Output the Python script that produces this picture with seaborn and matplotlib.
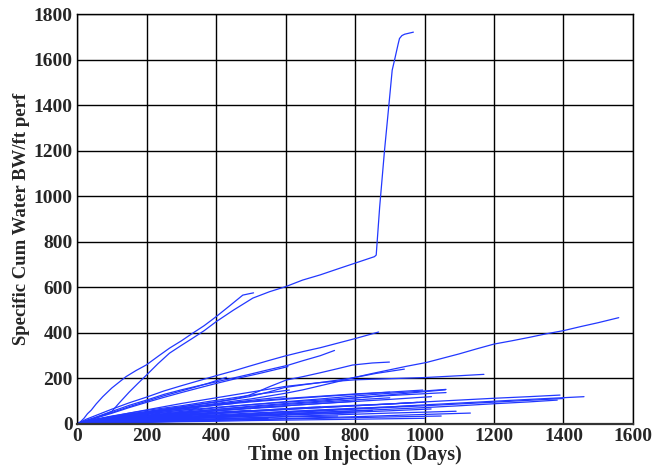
import matplotlib
matplotlib.use("Agg")
import matplotlib.pyplot as plt
import seaborn as sns
import pandas as pd

# ---- data: days on injection vs specific cum water (BW/ft perf), one list pair per well ----
w01_x = [0, 25, 50, 75, 100, 120, 150, 175, 200, 233, 266, 300, 333, 366, 400, 450, 506, 554, 600, 649, 700, 756, 813, 856, 861, 871, 885, 897, 907, 914, 919, 924, 928, 935, 943, 968]
w01_y = [0, 12, 25, 40, 55, 90, 140, 178, 215, 265, 311, 345, 377, 410, 449, 500, 553, 581, 603, 632, 655, 684, 713, 735, 742, 954, 1203, 1393, 1554, 1600, 1634, 1668, 1693, 1706, 1712, 1721]
w02_x = [0, 10, 20, 30, 41, 55, 74, 100, 141, 170, 199, 233, 266, 300, 333, 366, 400, 440, 477, 495, 508]
w02_y = [0, 10, 25, 45, 61, 88, 120, 158, 208, 235, 259, 297, 333, 365, 399, 432, 471, 520, 566, 572, 576]
w03_x = [0, 25, 50, 100, 150, 200, 250, 300, 350, 400, 450, 496, 550, 597, 650, 700, 750, 800, 868]
w03_y = [0, 20, 35, 65, 93, 118, 145, 168, 190, 212, 233, 254, 278, 298, 318, 335, 355, 375, 404]
w04_x = [0, 25, 50, 100, 150, 200, 250, 300, 350, 400, 450, 496, 550, 607, 650, 700, 741]
w04_y = [0, 15, 28, 55, 82, 105, 130, 150, 168, 185, 202, 218, 238, 258, 278, 300, 323]
w05_x = [0, 25, 50, 100, 150, 200, 250, 300, 340, 380, 430]
w05_y = [0, 14, 25, 50, 76, 100, 124, 145, 162, 180, 205]
w06_x = [0, 50, 100, 150, 200, 250, 300, 350, 400, 460, 525, 607]
w06_y = [0, 24, 47, 72, 95, 117, 138, 158, 178, 200, 222, 252]
w07_x = [0, 50, 100, 150, 200, 250, 300, 350, 410, 460, 496, 525, 554, 602, 650, 700, 750, 793, 850, 899]
w07_y = [0, 17, 30, 43, 55, 66, 75, 86, 98, 112, 127, 145, 164, 193, 208, 225, 243, 259, 268, 272]
w08_x = [0, 50, 100, 150, 200, 300, 400, 450, 496, 550, 597, 650, 700, 784, 860, 942]
w08_y = [0, 15, 28, 41, 52, 75, 98, 108, 120, 140, 160, 172, 182, 200, 222, 241]
w09_x = [0, 50, 100, 150, 200, 300, 400, 500, 600, 650, 700, 750, 800, 850, 900, 950, 1005, 1050, 1100, 1150, 1200, 1250, 1300, 1350, 1400, 1450, 1500, 1559]
w09_y = [0, 14, 26, 38, 50, 70, 90, 110, 135, 150, 168, 186, 205, 222, 238, 254, 270, 288, 308, 330, 351, 365, 380, 396, 410, 428, 445, 467]
w10_x = [0, 50, 100, 150, 200, 300, 400, 500, 600, 700, 800, 900, 1000, 1100, 1171]
w10_y = [0, 18, 33, 48, 62, 90, 115, 140, 165, 182, 194, 199, 204, 212, 218]
w11_x = [0, 50, 100, 200, 300, 400, 500, 600, 700, 800, 900, 1000, 1062]
w11_y = [0, 14, 25, 42, 55, 71, 85, 98, 110, 123, 135, 145, 152]
w12_x = [0, 50, 100, 200, 300, 400, 500, 600, 700, 800, 900, 1000, 1062]
w12_y = [0, 17, 30, 46, 60, 73, 85, 96, 105, 115, 125, 133, 138]
w13_x = [0, 50, 100, 200, 300, 400, 500, 600, 700, 800, 900, 1020]
w13_y = [0, 11, 20, 33, 45, 58, 70, 80, 90, 99, 108, 120]
w14_x = [0, 50, 100, 200, 300, 400, 500, 600, 700, 800, 900, 1000, 1100, 1200, 1300, 1390]
w14_y = [0, 8, 15, 25, 35, 45, 55, 64, 72, 80, 88, 97, 105, 113, 120, 127]
w15_x = [0, 50, 100, 200, 300, 400, 500, 600, 700, 800, 900, 1000, 1100, 1200, 1300, 1459]
w15_y = [0, 7, 12, 20, 28, 37, 45, 53, 60, 68, 75, 84, 92, 100, 108, 120]
w16_x = [0, 50, 100, 200, 300, 400, 500, 600, 700, 800, 900, 1000, 1100, 1200, 1300, 1382]
w16_y = [0, 5, 10, 16, 22, 28, 35, 43, 50, 58, 65, 72, 80, 89, 97, 105]
w17_x = [0, 50, 100, 200, 300, 400, 500, 600, 700, 800, 900, 1000, 1091]
w17_y = [0, 4, 8, 13, 18, 23, 28, 33, 38, 43, 48, 52, 56]
w18_x = [0, 100, 200, 300, 400, 500, 600, 700, 800, 900, 1000, 1132]
w18_y = [0, 5, 9, 12, 16, 20, 24, 28, 32, 37, 42, 48]
w19_x = [0, 50, 100, 200, 300, 400, 500, 600, 700, 800, 900, 1019]
w19_y = [0, 6, 10, 16, 22, 29, 35, 41, 47, 52, 58, 66]
w20_x = [0, 50, 100, 200, 300, 400, 500, 600, 700, 800, 900, 995]
w20_y = [0, 18, 32, 52, 68, 83, 97, 109, 120, 130, 140, 149]
w21_x = [0, 50, 100, 200, 300, 400, 500, 600, 700, 800, 900, 980]
w21_y = [0, 10, 18, 30, 40, 49, 58, 67, 75, 82, 88, 95]
w22_x = [0, 50, 100, 200, 300, 400, 500, 600, 700, 800, 900, 960]
w22_y = [0, 8, 14, 24, 32, 40, 48, 55, 62, 69, 75, 80]
w23_x = [0, 50, 100, 200, 300, 400, 500, 600, 700, 800, 900]
w23_y = [0, 14, 24, 39, 52, 64, 75, 86, 96, 106, 115]
w24_x = [0, 50, 100, 200, 300, 400, 500, 600, 700, 850]
w24_y = [0, 7, 12, 20, 27, 34, 40, 46, 52, 60]
w25_x = [0, 50, 100, 200, 300, 400, 500, 600, 700, 800]
w25_y = [0, 13, 22, 36, 48, 59, 70, 80, 90, 100]
w26_x = [0, 100, 200, 300, 400, 500, 600, 750]
w26_y = [0, 8, 13, 18, 22, 27, 31, 35]
w27_x = [0, 50, 100, 200, 300, 400, 500, 600, 700]
w27_y = [0, 10, 17, 29, 40, 49, 58, 67, 75]
w28_x = [0, 100, 200, 300, 400, 500, 650]
w28_y = [0, 12, 20, 27, 33, 38, 45]
w29_x = [0, 50, 100, 200, 300, 375, 450, 525, 600]
w29_y = [0, 18, 30, 50, 68, 82, 95, 108, 120]
w30_x = [0, 100, 200, 300, 400, 550]
w30_y = [0, 7, 12, 16, 20, 25]
w31_x = [0, 50, 100, 200, 300, 400, 500]
w31_y = [0, 11, 19, 32, 43, 52, 60]
w32_x = [0, 50, 100, 200, 300, 375, 450]
w32_y = [0, 16, 28, 48, 65, 78, 90]
w33_x = [0, 100, 175, 250, 325, 400]
w33_y = [0, 14, 21, 28, 34, 40]
w34_x = [0, 50, 100, 175, 250, 300, 350]
w34_y = [0, 15, 26, 40, 52, 61, 70]
w35_x = [0, 100, 200, 300, 400, 500, 600, 700, 800, 900, 1000]
w35_y = [0, 4, 7, 10, 12, 15, 17, 19, 21, 23, 25]
w36_x = [0, 100, 200, 300, 400, 500, 600, 700, 800, 900, 1048]
w36_y = [0, 6, 10, 13, 16, 19, 22, 25, 28, 31, 35]
w37_x = [0, 50, 100, 200, 300, 375, 450, 525, 611]
w37_y = [0, 20, 35, 60, 80, 98, 115, 132, 149]
w38_x = [0, 50, 100, 200, 300, 400, 500, 600, 700, 800, 900]
w38_y = [0, 18, 32, 52, 70, 86, 100, 112, 122, 132, 140]
w39_x = [0, 100, 200, 300]
w39_y = [0, 8, 14, 20]
w40_x = [0, 50, 100, 200, 300, 400, 500, 600, 700, 800, 900, 1000, 1060]
w40_y = [0, 11, 20, 36, 50, 64, 78, 90, 100, 114, 128, 142, 150]
w41_x = [0, 50, 100, 200, 300, 400, 500, 600, 700, 800, 900, 1000]
w41_y = [0, 9, 16, 27, 37, 46, 55, 64, 72, 80, 88, 96]
w42_x = [0, 50, 100, 200, 300, 400, 500, 600, 700, 800]
w42_y = [0, 6, 10, 17, 23, 29, 34, 39, 44, 49]
w43_x = [0, 50, 100, 200, 300, 400, 500, 600]
w43_y = [0, 12, 21, 35, 47, 58, 68, 77]
w44_x = [0, 50, 100, 200, 300, 400, 500, 600, 700, 800, 900, 1000, 1100, 1200, 1300, 1400]
w44_y = [0, 6, 11, 19, 27, 35, 42, 50, 57, 65, 73, 80, 88, 96, 104, 112]

wells = [
    (w01_x, w01_y), (w02_x, w02_y), (w03_x, w03_y), (w04_x, w04_y), (w05_x, w05_y),
    (w06_x, w06_y), (w07_x, w07_y), (w08_x, w08_y), (w09_x, w09_y), (w10_x, w10_y),
    (w11_x, w11_y), (w12_x, w12_y), (w13_x, w13_y), (w14_x, w14_y), (w15_x, w15_y),
    (w16_x, w16_y), (w17_x, w17_y), (w18_x, w18_y), (w19_x, w19_y), (w20_x, w20_y),
    (w21_x, w21_y), (w22_x, w22_y), (w23_x, w23_y), (w24_x, w24_y), (w25_x, w25_y),
    (w26_x, w26_y), (w27_x, w27_y), (w28_x, w28_y), (w29_x, w29_y), (w30_x, w30_y),
    (w31_x, w31_y), (w32_x, w32_y), (w33_x, w33_y), (w34_x, w34_y), (w35_x, w35_y),
    (w36_x, w36_y), (w37_x, w37_y), (w38_x, w38_y), (w39_x, w39_y), (w40_x, w40_y),
    (w41_x, w41_y), (w42_x, w42_y), (w43_x, w43_y), (w44_x, w44_y),
]

x_ticks = [0, 200, 400, 600, 800, 1000, 1200, 1400, 1600]
y_ticks = [0, 200, 400, 600, 800, 1000, 1200, 1400, 1600, 1800]

rows = []
for i, (xs, ys) in enumerate(wells):
    for xv, yv in zip(xs, ys):
        rows.append({"well": i, "days": xv, "cum": yv})
df = pd.DataFrame(rows)

sns.set_style("white")
plt.rcParams["font.family"] = ["Liberation Serif", "DejaVu Serif"]
plt.rcParams["font.weight"] = "bold"

fig = plt.figure(figsize=(6.67, 4.72), dpi=100)
ax = fig.add_axes([0.1155, 0.1017, 0.8335, 0.8683])

sns.lineplot(data=df, x="days", y="cum", units="well", estimator=None,
             sort=False, color="#2238ff", linewidth=0.9, legend=False, ax=ax)

ax.set_xlim(0, 1600)
ax.set_ylim(0, 1800)
ax.set_xticks(x_ticks)
ax.set_yticks(y_ticks)
ax.set_xticklabels([str(t) for t in x_ticks], fontsize=14, fontweight="bold")
ax.set_yticklabels([str(t) for t in y_ticks], fontsize=14, fontweight="bold")
ax.tick_params(length=0, pad=3)
ax.grid(True, color="black", linewidth=1.0)
ax.set_axisbelow(True)
for s in ax.spines.values():
    s.set_color("black")
    s.set_linewidth(1.0)
ax.spines["bottom"].set_linewidth(1.6)
ax.spines["bottom"].set_color("#333333")

ax.set_xlabel("Time on Injection (Days)", fontsize=14.5, fontweight="bold", labelpad=0)
ax.set_ylabel("Specific Cum Water BW/ft perf", fontsize=13.5, fontweight="bold", labelpad=3)

fig.savefig("out.png", dpi=100)
